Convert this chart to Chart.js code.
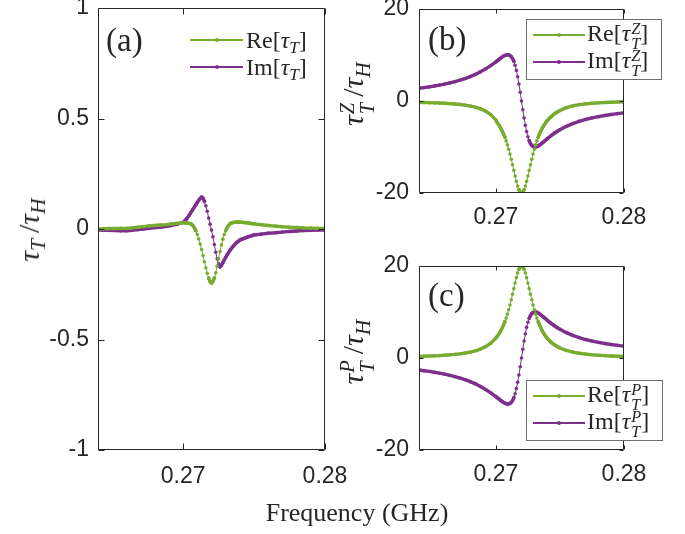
<!DOCTYPE html>
<html><head><meta charset="utf-8">
<script src="https://cdn.jsdelivr.net/npm/chart.js@4.4.0/dist/chart.umd.min.js"></script>
<style>
html,body{margin:0;padding:0;background:#fff;}
#wrap{position:relative;width:685px;height:534px;overflow:hidden;background:#fff;}
canvas{position:absolute;left:0;top:0;}
.t{position:absolute;font-family:"Liberation Serif","Times New Roman",serif;color:#262626;white-space:nowrap;line-height:1;}
.ytitle{transform:translate(-50%,-50%) rotate(-90deg);font-size:30px;}
.panel{font-size:33px;transform:translateY(-50%);}
.legbox{position:absolute;border:1px solid #6e6e6e;background:#fff;box-sizing:border-box;}
.lline{position:absolute;height:1.3px;}
.ldot{position:absolute;width:4px;height:4px;border-radius:2px;}
.ltxt{font-size:24px;transform:translateY(-50%);}
.sb{font-size:0.72em;font-style:italic;position:relative;top:0.3em;}
.ss{display:inline-block;vertical-align:middle;font-size:0.68em;font-style:italic;line-height:0.95;position:relative;top:0.06em;margin-left:1px;}
.ss span{display:block;}
i{font-style:italic;}
</style></head>
<body><div id="wrap">
<canvas id="ca" width="685" height="534"></canvas>
<canvas id="cb" width="685" height="534"></canvas>
<canvas id="cc" width="685" height="534"></canvas>
</div>
<script>
// ---- data ----
const freq = [0.2640,0.2644,0.2648,0.2652,0.2656,0.2660,0.2664,0.2668,0.2672,0.2676,0.2680,0.2684,0.2688,0.2692,0.2696,
0.2700,0.2701,0.2702,0.2703,0.2704,0.2705,0.2706,0.2707,0.2708,0.2709,
0.2710,0.2711,0.2712,0.2713,0.2714,0.2715,0.2716,0.2717,0.2718,0.2719,
0.2720,0.2721,0.2722,0.2723,0.2724,0.2725,0.2726,0.2727,0.2728,0.2729,
0.2730,0.2731,0.2732,0.2733,0.2734,0.2735,0.2736,0.2737,0.2738,0.2739,
0.2740,0.2741,0.2742,0.2743,0.2744,0.2745,0.2746,0.2747,0.2748,0.2749,0.2750,
0.2755,0.2760,0.2765,0.2770,0.2775,0.2780,0.2785,0.2790,0.2795,0.2800];

const reTT = [0.000,0.001,0.002,0.002,0.003,0.003,0.005,0.008,0.011,0.014,0.016,0.018,0.020,0.023,0.026,
0.028,0.028,0.027,0.027,0.026,0.024,0.021,0.015,0.005,-0.008,
-0.025,-0.045,-0.068,-0.093,-0.120,-0.148,-0.175,-0.200,-0.222,-0.238,
-0.245,-0.238,-0.222,-0.198,-0.168,-0.135,-0.102,-0.072,-0.046,-0.025,
-0.008,0.006,0.016,0.023,0.027,0.029,0.030,0.031,0.031,0.031,
0.031,0.030,0.030,0.029,0.029,0.028,0.027,0.026,0.025,0.024,0.023,
0.019,0.016,0.013,0.010,0.008,0.007,0.005,0.004,0.003,0.003];

const imTT = [-0.005,-0.006,-0.006,-0.007,-0.008,-0.008,-0.006,-0.003,0.000,0.003,0.006,0.008,0.012,0.016,0.022,
0.030,0.036,0.043,0.050,0.060,0.070,0.080,0.090,0.100,0.110,
0.120,0.130,0.138,0.145,0.140,0.125,0.105,0.080,0.050,0.022,
-0.005,-0.035,-0.070,-0.105,-0.135,-0.158,-0.172,-0.165,-0.152,-0.140,
-0.128,-0.117,-0.107,-0.097,-0.088,-0.080,-0.073,-0.066,-0.060,-0.055,
-0.050,-0.047,-0.045,-0.042,-0.040,-0.037,-0.035,-0.033,-0.031,-0.029,-0.027,
-0.023,-0.019,-0.017,-0.014,-0.011,-0.009,-0.007,-0.006,-0.005,-0.005];

const reTZ = [-0.30,-0.32,-0.36,-0.40,-0.45,-0.50,-0.57,-0.66,-0.77,-0.91,-1.10,-1.35,-1.70,-2.20,-2.95,
-4.15,-4.68,-5.08,-5.52,-6.02,-6.58,-7.20,-7.90,-8.67,-9.54,
-10.49,-11.53,-12.65,-13.85,-15.08,-16.30,-17.47,-18.49,-19.30,-19.82,
-20.00,-19.82,-19.30,-18.49,-17.47,-16.30,-15.08,-13.85,-12.65,-11.53,
-10.49,-9.54,-8.67,-7.90,-7.20,-6.58,-6.02,-5.52,-5.08,-4.68,
-4.32,-4.00,-3.71,-3.45,-3.21,-2.95,-2.75,-2.56,-2.38,-2.22,-2.07,
-1.45,-1.05,-0.80,-0.62,-0.50,-0.40,-0.32,-0.26,-0.21,-0.17];

const imTZ = [2.78,2.92,3.08,3.26,3.46,3.68,3.93,4.21,4.52,4.88,5.30,5.78,6.34,6.98,7.70,
8.50,8.72,8.94,9.16,9.38,9.58,9.76,9.90,10.00,10.05,
10.02,9.90,9.64,9.23,8.62,7.76,6.65,5.28,3.68,1.89,
0.00,-1.89,-3.68,-5.28,-6.65,-7.76,-8.62,-9.23,-9.64,-9.88,
-9.99,-9.99,-9.91,-9.78,-9.60,-9.40,-9.17,-8.94,-8.71,-8.47,
-8.23,-8.00,-7.77,-7.56,-7.34,-7.14,-6.94,-6.76,-6.58,-6.40,-6.24,
-5.51,-4.91,-4.43,-4.02,-3.68,-3.40,-3.15,-2.93,-2.75,-2.58];

const reTP = [0.34,0.38,0.42,0.47,0.52,0.59,0.68,0.78,0.91,1.08,1.29,1.57,1.94,2.47,3.21,
4.32,4.68,5.08,5.52,6.02,6.58,7.20,7.90,8.67,9.54,
10.49,11.53,12.65,13.85,15.08,16.30,17.47,18.49,19.30,19.82,
20.00,19.82,19.30,18.49,17.47,16.30,15.08,13.85,12.65,11.53,
10.49,9.54,8.67,7.90,7.20,6.58,6.02,5.52,5.08,4.68,
4.32,4.00,3.71,3.45,3.21,3.00,2.80,2.63,2.47,2.32,2.18,
1.65,1.29,1.03,0.85,0.70,0.59,0.51,0.44,0.38,0.34];

const imTP = [-2.62,-2.76,-2.92,-3.10,-3.30,-3.52,-3.76,-4.04,-4.36,-4.72,-5.14,-5.62,-6.18,-6.84,-7.58,
-8.40,-8.62,-8.84,-9.06,-9.27,-9.47,-9.66,-9.80,-9.92,-9.99,
-9.99,-9.88,-9.64,-9.23,-8.62,-7.76,-6.65,-5.28,-3.68,-1.89,
0.00,1.89,3.68,5.28,6.65,7.76,8.62,9.23,9.64,9.88,
9.99,9.99,9.91,9.78,9.60,9.40,9.17,8.94,8.71,8.47,
8.23,8.00,7.77,7.56,7.34,7.14,6.94,6.76,6.58,6.40,6.24,
5.51,4.91,4.43,4.02,3.68,3.40,3.15,2.93,2.75,2.58];

const xRange = [0.264, 0.28];
const xTicks = [0.27, 0.28];
const xTickLabels = ['0.27', '0.28'];
const yTicksA = [-1, -0.5, 0, 0.5, 1];
const yTickLabelsA = ['-1', '-0.5', '0', '0.5', '1'];
const yTicksBC = [-20, 0, 20];
const yTickLabelsBC = ['-20', '0', '20'];

// ---- styling ----
const GREEN = '#77AC30', PURPLE = '#7E2F8E', INK = '#262626';
const W = 685, H = 534;

const frameTicks = {
  id: 'frameTicks',
  afterDatasetsDraw(chart, args, opts) {
    const {ctx, chartArea: a, scales: {x, y}} = chart;
    const L = opts.len || 5;
    ctx.save();
    ctx.strokeStyle = INK; ctx.lineWidth = 1;
    const l = Math.round(a.left) + 0.5, r = Math.round(a.right) - 0.5;
    const t = Math.round(a.top) + 0.5, b = Math.round(a.bottom) - 0.5;
    ctx.beginPath();
    ctx.rect(l, t, r - l, b - t);
    x.ticks.forEach(tk => {
      const px = Math.round(x.getPixelForValue(tk.value)) + 0.5;
      ctx.moveTo(px, b); ctx.lineTo(px, b - L);
      ctx.moveTo(px, t); ctx.lineTo(px, t + L);
    });
    y.ticks.forEach(tk => {
      const py = Math.round(y.getPixelForValue(tk.value)) + 0.5;
      ctx.moveTo(l, py); ctx.lineTo(l + L, py);
      ctx.moveTo(r, py); ctx.lineTo(r - L, py);
    });
    ctx.stroke();
    ctx.restore();
  }
};

function ds(vals, color) {
  return {
    data: freq.map((f, i) => ({x: f, y: vals[i]})),
    borderColor: color, backgroundColor: color,
    pointBackgroundColor: color, pointBorderWidth: 0,
    pointRadius: 1.8, borderWidth: 1,
    borderCapStyle: 'round', borderJoinStyle: 'round',
    segment: {
      borderWidth: c => {
        const dx = Math.abs(c.p1.x - c.p0.x), dy = Math.abs(c.p1.y - c.p0.y);
        return dy < 2.6 * dx ? 3.4 : 1;
      }
    },
    tension: 0
  };
}

function makePanel(id, re, im, yTicks, yLabels, yMin, yMax, area, tickLen, yPad, xPad) {
  const YW = 60, XH = 40;
  return new Chart(document.getElementById(id), {
    type: 'line',
    data: {datasets: [ds(re, GREEN), ds(im, PURPLE)]},
    options: {
      responsive: false, animation: false, devicePixelRatio: 1,
      layout: {padding: {left: area.left - YW, right: W - area.right, top: area.top, bottom: H - area.bottom - XH}},
      plugins: {legend: {display: false}, tooltip: {enabled: false}, frameTicks: {len: tickLen}},
      scales: {
        x: {
          type: 'linear', min: xRange[0], max: xRange[1],
          afterBuildTicks: s => { s.ticks = xTicks.map(v => ({value: v})); },
          afterFit: s => { s.height = XH; s.paddingLeft = 0; s.paddingRight = 0; },
          grid: {display: false, drawTicks: false}, border: {display: false},
          ticks: {padding: xPad, color: INK, font: {family: 'Liberation Sans', size: 23},
                  maxRotation: 0, autoSkip: false, callback: (v, i) => xTickLabels[i]}
        },
        y: {
          type: 'linear', min: yMin, max: yMax,
          afterBuildTicks: s => { s.ticks = yTicks.map(v => ({value: v})); },
          afterFit: s => { s.width = YW; s.paddingTop = 0; s.paddingBottom = 0; },
          grid: {display: false, drawTicks: false}, border: {display: false},
          ticks: {padding: yPad, color: INK, font: {family: 'Liberation Sans', size: 23},
                  autoSkip: false, callback: (v, i) => yLabels[i]}
        }
      }
    },
    plugins: [frameTicks]
  });
}

makePanel('ca', reTT, imTT, yTicksA, yTickLabelsA, -1, 1, {left: 98, right: 325, top: 8, bottom: 450}, 6, 9, 13);
makePanel('cb', reTZ, imTZ, yTicksBC, yTickLabelsBC, -20, 20, {left: 419, right: 624, top: 9, bottom: 193}, 4, 10, 11);
makePanel('cc', reTP, imTP, yTicksBC, yTickLabelsBC, -20, 20, {left: 419, right: 624, top: 266, bottom: 450}, 4, 10, 11);

// ---- text overlays ----
const wrap = document.getElementById('wrap');
function addEl(cls, style, html) {
  const d = document.createElement('div');
  d.className = cls; d.setAttribute('style', style); d.innerHTML = html;
  wrap.appendChild(d); return d;
}
addEl('t', 'left:357px;top:513px;transform:translate(-50%,-50%);font-size:26px;', 'Frequency (GHz)');
addEl('t ytitle', 'left:29px;top:230px;', '<i>τ</i><span class="sb">T</span>&#8201;/<i>τ</i><span class="sb">H</span>');
addEl('t ytitle', 'left:356px;top:94px;', '<i>τ</i><span class="ss"><span>Z</span><span>T</span></span>&#8201;/<i>τ</i><span class="sb">H</span>');
addEl('t ytitle', 'left:356px;top:352px;', '<i>τ</i><span class="ss"><span>P</span><span>T</span></span>&#8201;/<i>τ</i><span class="sb">H</span>');
addEl('t panel', 'left:106px;top:40px;', '(a)');
addEl('t panel', 'left:428px;top:39px;', '(b)');
addEl('t panel', 'left:428px;top:295px;', '(c)');

function legendEntry(x0, x1, y, color, tx, html) {
  addEl('lline', `left:${x0}px;top:${y - 0.6}px;width:${x1 - x0}px;background:${color};`, '');
  addEl('ldot', `left:${(x0 + x1) / 2 - 2}px;top:${y - 2}px;background:${color};`, '');
  addEl('t ltxt', `left:${tx}px;top:${y}px;`, html);
}
const supsub = (a, b) => `<span class="ss"><span>${a}</span><span>${b}</span></span>`;
// (a)
legendEntry(190, 243, 40, GREEN, 246, 'Re[<i>τ</i><span class="sb">T</span>]');
legendEntry(190, 243, 67, PURPLE, 246, 'Im[<i>τ</i><span class="sb">T</span>]');
// (b)
addEl('legbox', 'left:526px;top:19px;width:136px;height:61px;', '');
legendEntry(533, 585, 35, GREEN, 587, 'Re[<i>τ</i>' + supsub('Z', 'T') + ']');
legendEntry(533, 585, 62, PURPLE, 587, 'Im[<i>τ</i>' + supsub('Z', 'T') + ']');
// (c)
addEl('legbox', 'left:526px;top:380px;width:137px;height:61px;', '');
legendEntry(533, 585, 396, GREEN, 587, 'Re[<i>τ</i>' + supsub('P', 'T') + ']');
legendEntry(533, 585, 423, PURPLE, 587, 'Im[<i>τ</i>' + supsub('P', 'T') + ']');
</script>
</body></html>
